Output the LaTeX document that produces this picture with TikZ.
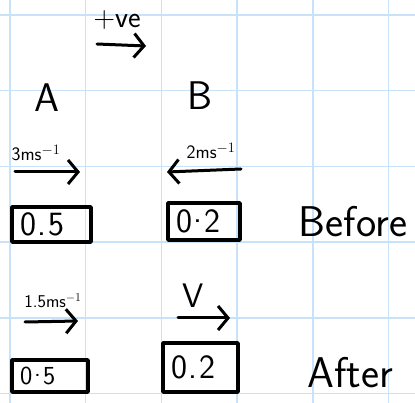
\documentclass[tikz,border=0pt]{standalone}
\usepackage{tikz}
\usetikzlibrary{arrows.meta, positioning}
\definecolor{gridblue}{RGB}{200,226,250}

\begin{document}
\begin{tikzpicture}[
    x=1pt, y=-1pt, line cap=round, line join=round,
    >={Straight Barb[length=10pt, width=24pt, line width=3pt]},
    gridline/.style={draw=gridblue, line width=1.5pt},
    velo/.style={->, line width=3pt},
    mass/.style={draw, line width=3.5pt, inner xsep=6pt, inner ysep=0pt, align=left,
        font=\sffamily\fontsize{34}{34}\selectfont},
    letter/.style={font=\sffamily\fontsize{40}{40}\selectfont},
    speed/.style={font=\sffamily\fontsize{19}{19}\selectfont, inner sep=1pt},
    stage/.style={font=\sffamily\fontsize{43}{43}\selectfont}]

    % Background grid
    \fill[white] (0,0) rectangle (415,403);
    \useasboundingbox (0,0) rectangle (415,403);
    \foreach \gx in {10,85.7,161.4,237.1,312.8,388.5}
        \draw[gridline] (\gx,0) -- (\gx,403);
    \foreach \gy in {15,90.7,166.4,242.1,317.8,393.5}
        \draw[gridline] (0,\gy) -- (415,\gy);

    % Positive direction
    \node[speed, font=\sffamily\fontsize{30}{30}\selectfont] (pos) at (117,20) {+ve};
    \coordinate (pos1) at (97,44);
    \coordinate (pos2) at (146,46);
    \draw[velo] (pos1) -- (pos2);

    % Particle names
    \node[letter] (A) at (47,98) {A};
    \node[letter] (B) at (200,96) {B};

    % Before collision
    \node[speed] (uA) at (36,153) {3ms$^{-1}$};
    \coordinate (uA1) at (15,172);
    \coordinate (uA2) at (80,172);
    \draw[velo] (uA1) -- (uA2);
    \node[speed] (uB) at (211,151) {2ms$^{-1}$};
    \coordinate (uB1) at (241,169);
    \coordinate (uB2) at (167,172);
    \draw[velo] (uB1) -- (uB2);
    \node[mass, text width=67pt, minimum height=35pt] (mA) at (51.5,224.5) {\hspace{2pt}0\hspace{2pt}.\hspace{2pt}5};
    \node[mass, text width=60pt, minimum height=37pt] (mB) at (204,221.5) {\hspace{2pt}0\hspace{2pt}\raisebox{0.3em}{.}\hspace{2pt}2};
    \node[stage] (before) at (353,222) {Before};

    % After collision
    \node[speed, font=\sffamily\fontsize{18}{18}\selectfont] (vA) at (53,301) {1.5ms$^{-1}$};
    \coordinate (vA1) at (25,322);
    \coordinate (vA2) at (78,321);
    \draw[velo] (vA1) -- (vA2);
    \node[letter, font=\sffamily\fontsize{34}{34}\selectfont] (vB) at (193,296) {V};
    \coordinate (vB1) at (178,318);
    \coordinate (vB2) at (230,318);
    \draw[velo] (vB1) -- (vB2);
    \node[mass, text width=64pt, minimum height=32pt, font=\sffamily\fontsize{26}{26}\selectfont] (nA) at (50,376) {\hspace{2pt}0\hspace{2pt}\raisebox{0.3em}{.}\hspace{2pt}5};
    \node[mass, text width=63pt, minimum height=49pt] (nB) at (200.5,367.5) {\hspace{2pt}0\hspace{2pt}.\hspace{2pt}2};
    \node[stage] (after) at (350,373) {After};

\end{tikzpicture}
\end{document}
